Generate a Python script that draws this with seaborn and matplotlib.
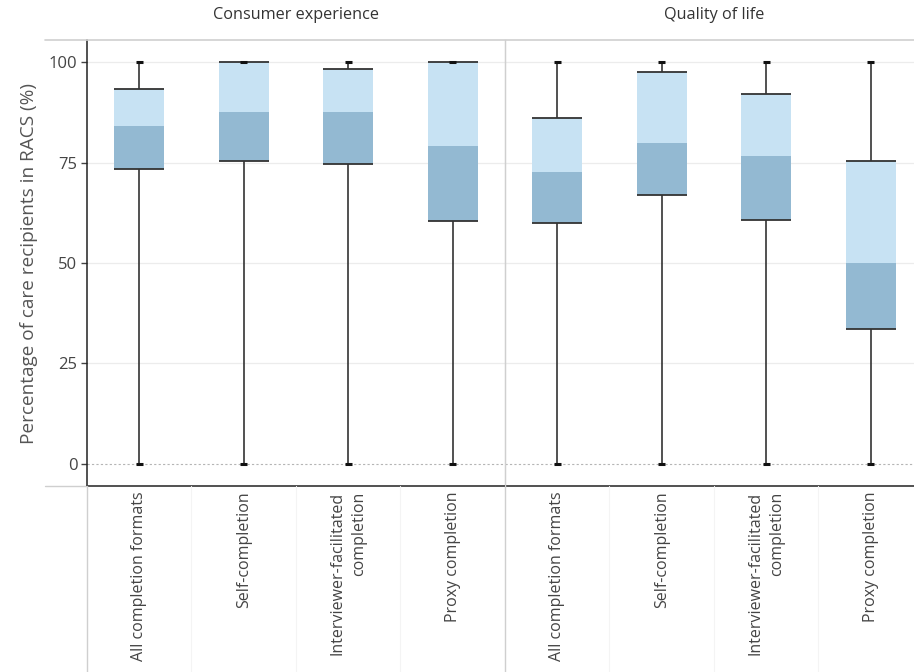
import numpy as np
import pandas as pd
import matplotlib
matplotlib.use("Agg")
import matplotlib.pyplot as plt
import seaborn as sns
from matplotlib.lines import Line2D

# datos (porcentaje de residentes, box plot por formato)
categories = ["All completion formats", "Self-completion",
              "Interviewer-facilitated\ncompletion", "Proxy completion"]
panels = ["Consumer experience", "Quality of life"]

ce_min = [0, 0, 0, 0]
ce_q1 = [73.4, 75.4, 74.6, 60.4]
ce_median = [84.1, 87.6, 87.6, 79.1]
ce_q3 = [93.3, 100, 98.4, 100]
ce_max = [100, 100, 100, 100]

ql_min = [0, 0, 0, 0]
ql_q1 = [60.0, 66.9, 60.7, 33.6]
ql_median = [72.6, 79.9, 76.6, 50.0]
ql_q3 = [86.1, 97.6, 92.1, 75.4]
ql_max = [100, 100, 100, 100]

yticks = [0, 25, 50, 75, 100]

sns.set_style("white")
plt.rcParams['font.family'] = ['Open Sans', 'DejaVu Sans']

light = "#c7e2f3"
dark = "#93b9d2"
line_c = "#333333"
grid_c = "#ececec"
sep_c = "#cfcfcf"

fig = plt.figure(figsize=(9.14, 6.72), dpi=100)
W, H = 914, 672
ax_l = fig.add_axes([87 / W, 1 - 486 / H, 418 / W, 446 / H])
ax_r = fig.add_axes([505 / W, 1 - 486 / H, 418 / W, 446 / H])

stats = [
    (ce_min, ce_q1, ce_median, ce_q3, ce_max),
    (ql_min, ql_q1, ql_median, ql_q3, ql_max),
]
bw = 0.48

for ax, title, (mn, q1, med, q3, mx) in zip([ax_l, ax_r], panels, stats):
    df = pd.DataFrame({'cat': categories, 'min': mn, 'q1': q1,
                       'med': med, 'q3': q3, 'max': mx})
    df['low_h'] = df['med'] - df['q1']
    df['up_h'] = df['q3'] - df['med']

    for t in yticks[1:]:
        ax.axhline(t, color=grid_c, lw=0.9, zorder=0)
    ax.axhline(0, color="#b5b5b5", lw=0.8, ls=(0, (2, 2)), zorder=0)

    # bigotes
    xs = np.arange(len(df))
    ax.vlines(xs, df['min'], df['q1'], color=line_c, lw=1.2, zorder=1)
    ax.vlines(xs, df['q3'], df['max'], color=line_c, lw=1.2, zorder=1)

    sns.barplot(data=df, x='cat', y='low_h', bottom=df['q1'].values, color=dark,
                saturation=1, width=bw, errorbar=None, edgecolor='none', ax=ax, zorder=2)
    sns.barplot(data=df, x='cat', y='up_h', bottom=df['med'].values, color=light,
                saturation=1, width=bw, errorbar=None, edgecolor='none', ax=ax, zorder=2)

    ax.hlines(df['q1'], xs - bw / 2, xs + bw / 2, color=line_c, lw=1.3, zorder=3)
    ax.hlines(df['q3'], xs - bw / 2, xs + bw / 2, color=line_c, lw=1.3, zorder=3)
    ax.hlines(df['min'], xs - 0.035, xs + 0.035, color="#111111", lw=2.2, zorder=4)
    ax.hlines(df['max'], xs - 0.035, xs + 0.035, color="#111111", lw=2.2, zorder=4)

    ax.set_xlim(-0.5, 3.5)
    ax.set_ylim(-5.5, 105.5)
    ax.set_xlabel('')
    ax.set_ylabel('')
    ax.set_xticks(xs)
    ax.set_xticklabels(categories, rotation=90, va='top', ha='center', ma='right',
                       fontsize=11.5, color='#444444', linespacing=1.45)
    ax.tick_params(axis='x', length=0, pad=4)
    ax.text(0.5, 1 + 25 / 446, title, transform=ax.transAxes, ha='center', va='center',
            fontsize=11.7, color='#333333')
    for s in ['top', 'right']:
        ax.spines[s].set_visible(False)
    ax.spines['bottom'].set_color('#222222')
    ax.spines['bottom'].set_linewidth(1.1)

ax_l.set_yticks(yticks)
ax_l.set_yticklabels([str(t) for t in yticks], fontsize=12, color='#444444')
ax_l.tick_params(axis='y', length=4, width=1, color='#444444', pad=3, left=True)
ax_l.spines['left'].set_color('#222222')
ax_l.spines['left'].set_linewidth(1.1)
ax_l.set_ylabel('Percentage of care recipients in RACS (%)', fontsize=13.7,
                color='#555555', labelpad=8)

ax_r.set_yticks([])
ax_r.spines['left'].set_color(sep_c)

# lineas de encabezado y separadores (estilo tableau)
fig.add_artist(Line2D([45 / W, 1], [1 - 40 / H] * 2, color=sep_c, lw=1.2,
                      transform=fig.transFigure))
fig.add_artist(Line2D([45 / W, 87 / W], [1 - 486 / H] * 2, color=sep_c, lw=1.0,
                      transform=fig.transFigure))
for xp in [87, 505]:
    fig.add_artist(Line2D([xp / W] * 2, [0, 1 - 486 / H], color=sep_c, lw=1.0,
                          transform=fig.transFigure))
fig.add_artist(Line2D([505 / W] * 2, [1 - 486 / H, 1 - 40 / H], color=sep_c, lw=1.0,
                      transform=fig.transFigure))
for xp in [191, 296, 400, 609, 714, 818]:
    fig.add_artist(Line2D([xp / W] * 2, [0, 1 - 486 / H], color='#f4f4f4', lw=0.8,
                          transform=fig.transFigure))

fig.savefig('out.png', dpi=100)
